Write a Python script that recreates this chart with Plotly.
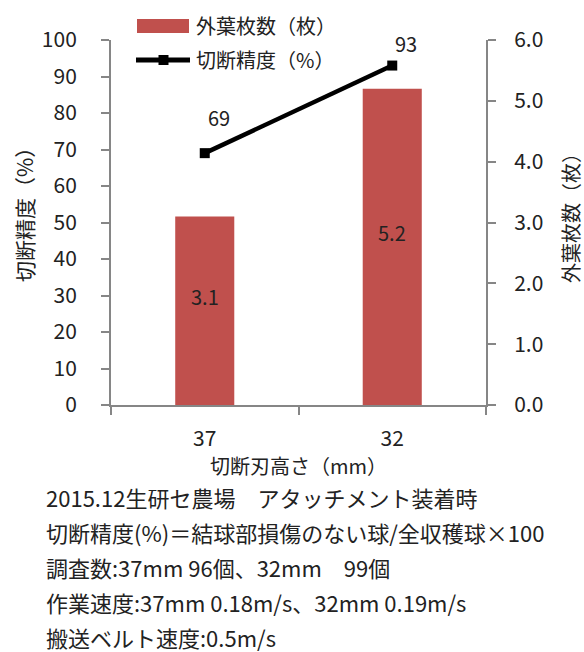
import plotly.graph_objects as go

# Cutting blade height categories
heights = ["37", "32"]
# Outer leaves remaining (sheets) – bars, right axis
outer_leaves = [3.1, 5.2]
# Cutting accuracy (%) – line, left axis
accuracy = [69, 93]

notes = [
    "2015.12生研セ農場　アタッチメント装着時",
    "切断精度(%)＝結球部損傷のない球/全収穫球×100",
    "調査数:37mm 96個、32mm　99個",
    "作業速度:37mm 0.18m/s、32mm 0.19m/s",
    "搬送ベルト速度:0.5m/s",
]

FONT = "Noto Sans CJK JP"
NOTE_FONT = "Noto Sans CJK JP"
TXT = "#222222"
AX = "#868686"
RED = "#C0504D"

W, H = 584, 652
L, R, T, B = 111, 98, 40, 247
PH = H - T - B


def py(pix):
    """pixel row -> paper y"""
    return (H - B - pix) / PH


def px(pix):
    """pixel column -> paper x"""
    return (pix - L) / (W - L - R)


fig = go.Figure()

fig.add_trace(go.Bar(
    x=heights, y=outer_leaves, yaxis="y", width=0.315,
    marker=dict(color=RED, line=dict(width=0)),
    name="外葉枚数（枚）", showlegend=False,
))
fig.add_trace(go.Scatter(
    x=heights, y=accuracy, yaxis="y2", mode="lines+markers",
    line=dict(color="black", width=4.5),
    marker=dict(symbol="square", size=10, color="black"),
    name="切断精度（%）", showlegend=False,
))

annotations = []
# bar value labels (category index positions)
for i, v in enumerate(outer_leaves):
    annotations.append(dict(x=i, y=v / 2, xref="x", yref="y", text=f"{v:.1f}",
                            showarrow=False, yshift=14,
                            font=dict(family=FONT, size=20, color=TXT)))
# line value labels
for i, (v, ys) in enumerate(zip(accuracy, [36, 22])):
    annotations.append(dict(x=i, y=v, xref="x", yref="y2", text=f"{v}",
                            showarrow=False, yshift=ys, xshift=14,
                            font=dict(family=FONT, size=20, color=TXT)))

# axis titles
annotations.append(dict(x=px(24), y=py(210), xref="paper", yref="paper", text="切断精度（%）",
                        showarrow=False, textangle=-90, xanchor="center", yanchor="middle",
                        font=dict(family=FONT, size=21, color=TXT)))
annotations.append(dict(x=px(570), y=py(213), xref="paper", yref="paper", text="外葉枚数（枚）",
                        showarrow=False, textangle=-90, xanchor="center", yanchor="middle",
                        font=dict(family=FONT, size=20, color=TXT)))
annotations.append(dict(x=px(298), y=py(465), xref="paper", yref="paper", text="切断刃高さ（mm）",
                        showarrow=False, xanchor="center", yanchor="middle",
                        font=dict(family=FONT, size=20, color=TXT)))

# legend entries
annotations.append(dict(x=px(194), y=py(25), xref="paper", yref="paper", text="外葉枚数（枚）",
                        showarrow=False, xanchor="left", yanchor="middle",
                        font=dict(family=FONT, size=20, color=TXT)))
annotations.append(dict(x=px(194), y=py(59), xref="paper", yref="paper", text="切断精度（%）",
                        showarrow=False, xanchor="left", yanchor="middle",
                        font=dict(family=FONT, size=20, color=TXT)))

# footnotes
for i, line in enumerate(notes):
    annotations.append(dict(x=px(44), y=py(497 + i * 35), xref="paper", yref="paper",
                            text=line, showarrow=False, xanchor="left", yanchor="middle",
                            font=dict(family=NOTE_FONT, size=22, color=TXT)))

shapes = [
    dict(type="rect", xref="paper", yref="paper", x0=px(137), x1=px(189), y0=py(33), y1=py(19),
         fillcolor=RED, line=dict(width=0)),
    dict(type="line", xref="paper", yref="paper", x0=px(136), x1=px(190), y0=py(60), y1=py(60),
         line=dict(color="black", width=5)),
    dict(type="rect", xref="paper", yref="paper", x0=px(158.5), x1=px(168.5), y0=py(65), y1=py(55),
         fillcolor="black", line=dict(width=0)),
]

tickfont = dict(family=FONT, size=21, color=TXT)

fig.update_layout(
    width=W, height=H,
    margin=dict(l=L, r=R, t=T, b=B),
    paper_bgcolor="white", plot_bgcolor="white",
    showlegend=False,
    xaxis=dict(type="category", range=[-0.5, 1.5], tickson="boundaries", ticks="outside",
               ticklen=8, tickwidth=2, tickcolor=AX, showline=True, linecolor=AX,
               linewidth=2, showgrid=False, tickfont=tickfont, ticklabelstandoff=14),
    yaxis=dict(side="right", range=[0, 6], dtick=1, tickformat=".1f", ticks="outside",
               ticklen=8, tickwidth=2, tickcolor=AX, showline=True, linecolor=AX,
               linewidth=2, showgrid=False, zeroline=False, tickfont=tickfont,
               ticklabelstandoff=14),
    yaxis2=dict(side="left", overlaying="y", range=[0, 100], dtick=10, ticks="outside",
                ticklen=8, tickwidth=2, tickcolor=AX, showline=True, linecolor=AX,
                linewidth=2, showgrid=False, zeroline=False, tickfont=tickfont,
                ticklabelstandoff=20),
    annotations=annotations,
    shapes=shapes,
)

fig.write_html("out.html")
